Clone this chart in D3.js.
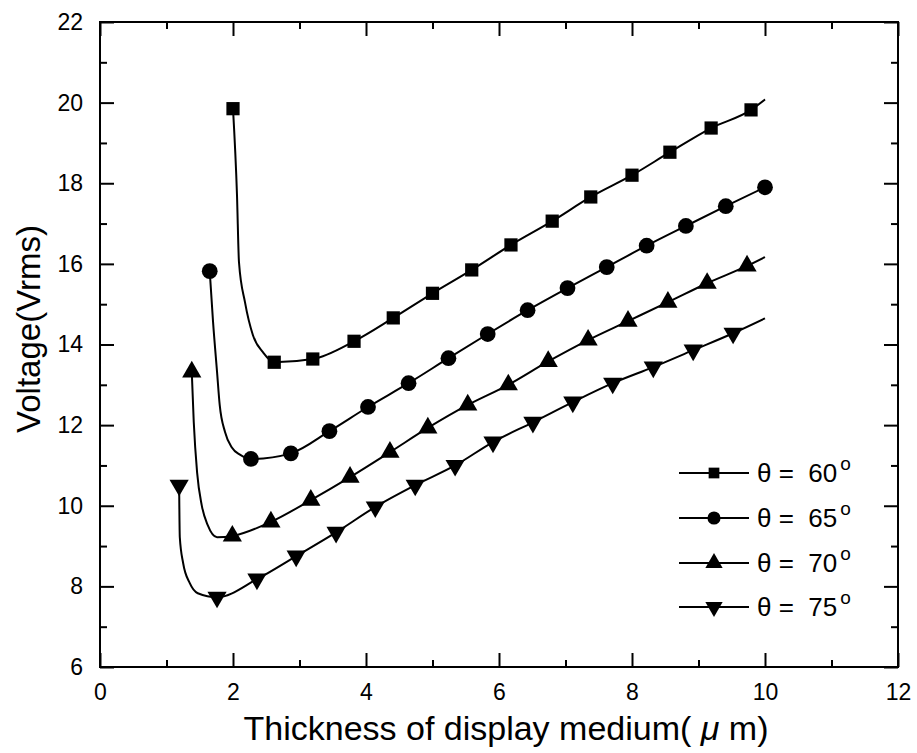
<!DOCTYPE html>
<html>
<head>
<meta charset="utf-8">
<script src="https://cdn.jsdelivr.net/npm/d3@7"></script>
<style>
  html, body { margin: 0; padding: 0; background: #fff; }
  svg { display: block; }
  text { font-family: "Liberation Sans", Arial, Helvetica, sans-serif; fill: #000; }
</style>
</head>
<body>
<svg id="chart" width="917" height="753"></svg>
<script>
// ---------------- data ----------------
const seriesNames = ["60", "65", "70", "75"];

// marker positions
const thickness60 = [2.0, 2.62, 3.2, 3.82, 4.41, 5.0, 5.59, 6.18, 6.8, 7.38, 8.0, 8.57, 9.19, 9.79];
const voltage60   = [19.85, 13.56, 13.64, 14.08, 14.66, 15.27, 15.85, 16.47, 17.06, 17.66, 18.2, 18.77, 19.37, 19.82];

const thickness65 = [1.65, 2.27, 2.87, 3.45, 4.03, 4.64, 5.24, 5.83, 6.43, 7.03, 7.62, 8.22, 8.81, 9.41, 10.0];
const voltage65   = [15.82, 11.16, 11.3, 11.85, 12.45, 13.04, 13.66, 14.26, 14.85, 15.4, 15.92, 16.45, 16.94, 17.43, 17.9];

const thickness70 = [1.38, 1.99, 2.57, 3.17, 3.76, 4.36, 4.93, 5.53, 6.14, 6.74, 7.34, 7.94, 8.54, 9.13, 9.73];
const voltage70   = [13.32, 9.25, 9.6, 10.14, 10.71, 11.33, 11.93, 12.5, 13.0, 13.58, 14.11, 14.58, 15.05, 15.52, 15.95];

const thickness75 = [1.19, 1.76, 2.36, 2.95, 3.55, 4.14, 4.74, 5.34, 5.91, 6.51, 7.11, 7.71, 8.32, 8.92, 9.52];
const voltage75   = [10.51, 7.73, 8.18, 8.75, 9.34, 9.97, 10.51, 11.0, 11.58, 12.07, 12.57, 13.04, 13.44, 13.86, 14.28];

// extra points (knee and line end)
const curveX60 = [2.06, 2.09, 2.18, 2.30, 2.45, 10.0];
const curveY60 = [17.71, 16.04, 15.05, 14.23, 13.81, 20.08];
const curveX65 = [1.70, 1.76, 1.80, 1.88, 1.98, 2.11];
const curveY65 = [14.56, 13.32, 12.50, 11.83, 11.45, 11.26];
const curveX70 = [1.41, 1.46, 1.53, 1.62, 1.76, 10.0];
const curveY70 = [12.07, 10.83, 10.01, 9.52, 9.22, 16.17];
const curveX75 = [1.20, 1.25, 1.35, 1.47, 10.0];
const curveY75 = [9.22, 8.58, 8.08, 7.83, 14.65];

const xTicks = [0, 2, 4, 6, 8, 10, 12];
const xMinor = [1, 3, 5, 7, 9, 11];
const yTicks = [6, 8, 10, 12, 14, 16, 18, 20, 22];
const yMinor = [7, 9, 11, 13, 15, 17, 19, 21];

const xTitle = "Thickness of display medium(";
const yTitle = "Voltage(Vrms)";

// ---------------- layout ----------------
const svg = d3.select("#chart");
const L = 100, R = 898, T = 22, B = 667;
const x = d3.scaleLinear().domain([0, 12]).range([L, R]);
const y = d3.scaleLinear().domain([6, 22]).range([B, T]);

const markerX = [thickness60, thickness65, thickness70, thickness75];
const markerY = [voltage60, voltage65, voltage70, voltage75];
const cX = [curveX60, curveX65, curveX70, curveX75];
const cY = [curveY60, curveY65, curveY70, curveY75];
const symbols = [d3.symbolSquare, d3.symbolCircle, d3.symbolTriangle, d3.symbolTriangle];
const symSize = [175, 195, 160, 160];
const rot = [0, 0, 0, 180];

// axes
function styleAxis(g) {
  g.select(".domain").remove();
  g.selectAll(".tick line").attr("stroke", "#000").attr("stroke-width", 2);
  g.selectAll(".tick text").style("font-size", "23px").style("font-family", '"Liberation Sans", Arial, sans-serif').attr("fill", "#000");
}
svg.append("g").attr("transform", `translate(0,${B})`)
  .call(d3.axisBottom(x).tickValues(xTicks).tickSize(-14).tickPadding(17).tickFormat(d3.format("d"))).call(styleAxis);
svg.append("g").attr("transform", `translate(0,${B})`)
  .call(d3.axisBottom(x).tickValues(xMinor).tickSize(-7).tickFormat("")).call(styleAxis);
svg.append("g").attr("transform", `translate(0,${T})`)
  .call(d3.axisTop(x).tickValues(xTicks).tickSize(-14).tickFormat("")).call(styleAxis);
svg.append("g").attr("transform", `translate(0,${T})`)
  .call(d3.axisTop(x).tickValues(xMinor).tickSize(-7).tickFormat("")).call(styleAxis);
svg.append("g").attr("transform", `translate(${L},0)`)
  .call(d3.axisLeft(y).tickValues(yTicks).tickSize(-14).tickPadding(17).tickFormat(d3.format("d"))).call(styleAxis);
svg.append("g").attr("transform", `translate(${L},0)`)
  .call(d3.axisLeft(y).tickValues(yMinor).tickSize(-7).tickFormat("")).call(styleAxis);
svg.append("g").attr("transform", `translate(${R},0)`)
  .call(d3.axisRight(y).tickValues(yTicks).tickSize(-14).tickFormat("")).call(styleAxis);
svg.append("g").attr("transform", `translate(${R},0)`)
  .call(d3.axisRight(y).tickValues(yMinor).tickSize(-7).tickFormat("")).call(styleAxis);

svg.append("rect").attr("x", L).attr("y", T).attr("width", R - L).attr("height", B - T)
  .attr("fill", "none").attr("stroke", "#000").attr("stroke-width", 2);

// curves
const line = d3.line().x(d => x(d[0])).y(d => y(d[1])).curve(d3.curveMonotoneX);
seriesNames.forEach((name, i) => {
  const pts = markerX[i].map((v, j) => [v, markerY[i][j]])
    .concat(cX[i].map((v, j) => [v, cY[i][j]]))
    .sort((a, b) => a[0] - b[0]);
  svg.append("path").datum(pts).attr("d", line)
    .attr("fill", "none").attr("stroke", "#000").attr("stroke-width", 2);
  const sym = d3.symbol().type(symbols[i]).size(symSize[i]);
  svg.append("g").selectAll("path").data(markerX[i].map((v, j) => [v, markerY[i][j]]))
    .join("path").attr("d", sym)
    .attr("transform", d => `translate(${x(d[0])},${y(d[1])}) rotate(${rot[i]})`)
    .attr("fill", "#000");
});

// legend
const legX0 = 679, legX1 = 749, legM = 714, legTextX = 757;
const legY = [473, 518, 563, 607];
const legSize = [115, 135, 130, 130];
seriesNames.forEach((name, i) => {
  const g = svg.append("g");
  g.append("line").attr("x1", legX0).attr("x2", legX1).attr("y1", legY[i]).attr("y2", legY[i])
    .attr("stroke", "#000").attr("stroke-width", 2);
  g.append("path").attr("d", d3.symbol().type(symbols[i]).size(legSize[i]))
    .attr("transform", `translate(${legM},${legY[i]}) rotate(${rot[i]})`).attr("fill", "#000");
  const t = g.append("text").attr("x", legTextX).attr("y", legY[i] + 9)
    .style("font-size", "26px").attr("xml:space", "preserve");
  t.append("tspan").text("θ ");
  t.append("tspan").text("=  " + name);
  t.append("tspan").attr("dx", 3).attr("dy", -12).style("font-size", "19px").text("o");
});

// axis titles
const xt = svg.append("text").attr("x", 506).attr("y", 740).attr("text-anchor", "middle")
  .style("font-size", "34px").attr("xml:space", "preserve");
xt.append("tspan").text(xTitle + " ");
xt.append("tspan").style("font-style", "italic").text("μ");
xt.append("tspan").text(" m)");

svg.append("text").attr("transform", "translate(40,329) rotate(-90)").attr("text-anchor", "middle")
  .style("font-size", "33px").text(yTitle);
</script>
</body>
</html>
